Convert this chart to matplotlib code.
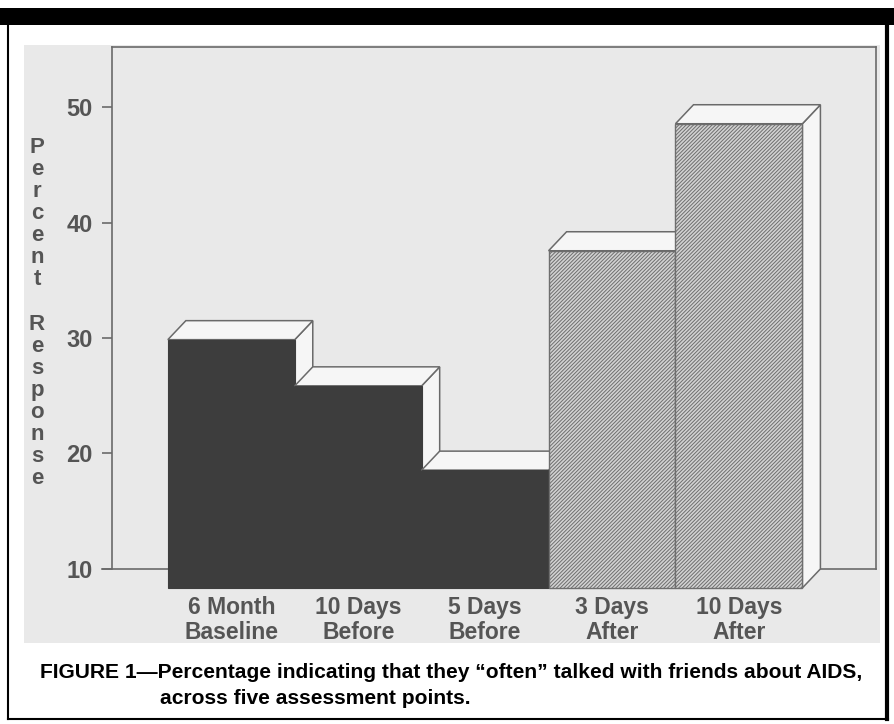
import matplotlib
matplotlib.use("Agg")
import matplotlib.pyplot as plt
from matplotlib.patches import Polygon, Rectangle

# Assessment points and percent reporting they "often" talked with friends
phases = ["6 Month\nBaseline", "10 Days\nBefore", "5 Days\nBefore", "3 Days\nAfter", "10 Days\nAfter"]
percent = [31.5, 27.5, 20.2, 39.2, 50.2]
after_program = [False, False, False, True, True]
y_ticks = [10, 20, 30, 40, 50]

W, H = 894, 724
FLOOR = 10
DX, DY = 0.142, 1.646      # oblique depth offset (x in bar units, y in percent)
LINE = "#6a6a6a"
TEXT = "#555555"
DARK = "#3d3d3d"

plt.rcParams["hatch.linewidth"] = 0.7


def px_box(x0, y0, x1, y1):
    # pixel box (top-left origin) -> figure fraction rect
    return [x0 / W, 1 - y1 / H, (x1 - x0) / W, (y1 - y0) / H]


def draw_page(fig):
    panel = px_box(24, 45, 880, 643)
    fig.patches.append(Rectangle(panel[:2], panel[2], panel[3], transform=fig.transFigure,
                                 facecolor="#e9e9e9", edgecolor="none", zorder=-5))
    # black frame around the figure
    top = px_box(0, 8, W, 25)
    fig.patches.append(Rectangle(top[:2], top[2], top[3], transform=fig.transFigure,
                                 facecolor="black", edgecolor="none", zorder=-5))
    fig.add_artist(plt.Line2D([8 / W, 8 / W], [1 - 25 / H, 1 - 719 / H], color="black", lw=1.5))
    fig.add_artist(plt.Line2D([887 / W, 887 / W], [1 - 25 / H, 1 - 719 / H], color="black", lw=3))
    fig.add_artist(plt.Line2D([8 / W, 888 / W], [1 - 719 / H, 1 - 719 / H], color="black", lw=1.5))


def draw_bar(ax, i, value, hatched):
    lo, hi = FLOOR - DY, value - DY
    x0, x1 = i - 0.5, i + 0.5
    side = Polygon([(x1, lo), (x1, hi), (x1 + DX, value), (x1 + DX, FLOOR)],
                   facecolor="#f6f6f6", edgecolor=LINE, lw=1.1, zorder=3, clip_on=False)
    top = Polygon([(x0, hi), (x1, hi), (x1 + DX, value), (x0 + DX, value)],
                  facecolor="#f6f6f6", edgecolor=LINE, lw=1.1, zorder=3, clip_on=False)
    ax.add_patch(side)
    ax.add_patch(top)
    if hatched:
        front = Rectangle((x0, lo), 1, hi - lo, facecolor="#d2d2d2", edgecolor="#6e6e6e",
                          hatch="/////////", lw=1.0, zorder=3, clip_on=False)
    else:
        front = Rectangle((x0, lo), 1, hi - lo, facecolor=DARK, edgecolor=DARK,
                          lw=0.8, zorder=3, clip_on=False)
    ax.add_patch(front)


def draw_chart(fig):
    ax = fig.add_axes(px_box(112, 47, 876, 592))
    ax.set_xlim(-0.94, 5.08)
    ax.set_ylim(8.0, 55.2)
    ax.set_facecolor("none")

    for name in ["left", "top", "right"]:
        ax.spines[name].set_color(LINE)
        ax.spines[name].set_linewidth(1.2)
    ax.spines["bottom"].set_visible(False)
    ax.spines["left"].set_bounds(FLOOR, 55.2)
    ax.spines["right"].set_bounds(FLOOR, 55.2)

    # back floor line, mostly hidden behind the bars
    ax.plot([-1.02, 5.08], [FLOOR, FLOOR], color=LINE, lw=1.2, zorder=1, clip_on=False)

    for i, (v, h) in enumerate(zip(percent, after_program)):
        draw_bar(ax, i, v, h)

    ax.set_yticks(y_ticks)
    ax.set_yticklabels([str(t) for t in y_ticks])
    ax.tick_params(axis="y", length=7, width=1.2, color=LINE, pad=7,
                   labelsize=17, labelcolor=TEXT)
    for lbl in ax.get_yticklabels():
        lbl.set_fontfamily("Liberation Sans")
        lbl.set_fontweight("bold")

    ax.set_xticks(range(len(phases)))
    ax.set_xticklabels(phases, linespacing=1.12)
    ax.tick_params(axis="x", length=0, pad=3, labelsize=16.5, labelcolor=TEXT)
    for lbl in ax.get_xticklabels():
        lbl.set_fontfamily("Liberation Sans")
        lbl.set_fontweight("bold")

    letters = list("Percent") + [""] + list("Response")
    fig.text(37 / W, 1 - 313 / H, "\n".join(letters), ha="center", va="center",
             multialignment="center", fontsize=16, fontweight="bold", color=TEXT,
             family="Liberation Sans", linespacing=1.07)
    return ax


def fit_width(fig, txt, target_px):
    fig.canvas.draw()
    width = txt.get_window_extent().width
    txt.set_fontsize(txt.get_fontsize() * target_px / width)


def draw_caption(fig):
    fam = ["Liberation Sans", "DejaVu Sans"]
    line1 = fig.text(40 / W, 1 - 673 / H,
                     "FIGURE 1\u2014Percentage indicating that they \u201coften\u201d talked with friends about AIDS,",
                     ha="left", va="center", fontsize=17, fontweight="bold", color="black", family=fam)
    line2 = fig.text(160 / W, 1 - 699 / H, "across five assessment points.",
                     ha="left", va="center", fontsize=17, fontweight="bold", color="black", family=fam)
    fit_width(fig, line1, 822)
    line2.set_fontsize(line1.get_fontsize())


def main():
    fig = plt.figure(figsize=(W / 100, H / 100), dpi=100)
    fig.patch.set_facecolor("white")
    draw_page(fig)
    draw_chart(fig)
    draw_caption(fig)
    fig.savefig("out.png", dpi=100)


if __name__ == "__main__":
    main()
